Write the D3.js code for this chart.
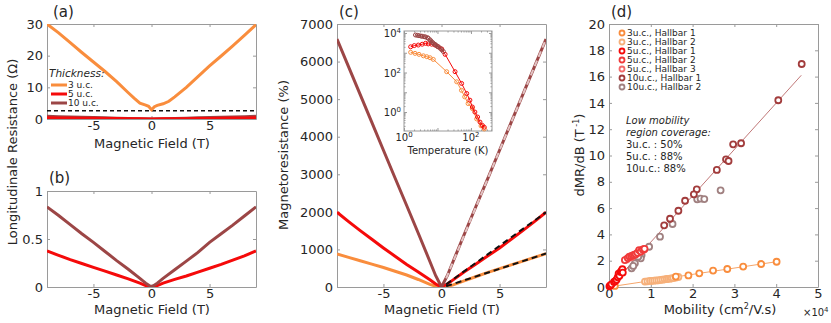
<!DOCTYPE html>
<html>
<head>
<meta charset="utf-8">
<script src="https://cdn.jsdelivr.net/npm/d3@7"></script>
<style>
body { margin: 0; background: #fff; }
svg text { font-family: "DejaVu Sans", Verdana, sans-serif; fill: #262626; }
</style>
</head>
<body>
<svg id="chart" width="831" height="323"></svg>
<script>
// --- Data ---
const fieldA = [-9, -8, -7, -6, -5, -4, -3, -2, -1.5, -1, -0.5, -0.25, 0, 0.25, 0.5, 1, 1.5, 2, 3, 4, 5, 6, 7, 8, 9];
const resA3 = [30, 27.2, 24.1, 21.0, 18.0, 15.0, 11.8, 8.3, 6.6, 5.0, 4.4, 4.0, 2.9, 3.9, 4.3, 4.8, 5.6, 7.0, 10.0, 13.4, 16.8, 19.9, 23.1, 26.4, 29.8];
const dashA = [2.6, 0];

const fieldB = [-9, -8, -7, -6, -5, -4, -3, -2, -1, -0.5, 0, 0.5, 1, 2, 3, 4, 5, 6, 7, 8, 9];
const resB5 = [0.375, 0.33, 0.285, 0.245, 0.205, 0.165, 0.125, 0.085, 0.04, 0.015, 0, 0.015, 0.04, 0.08, 0.115, 0.155, 0.195, 0.235, 0.28, 0.325, 0.375];
const resB10 = [0.835, 0.745, 0.65, 0.555, 0.465, 0.37, 0.275, 0.185, 0.09, 0.04, 0, 0.04, 0.09, 0.18, 0.27, 0.36, 0.465, 0.555, 0.645, 0.74, 0.835];

const fieldC = [-9, -8, -7, -6, -5, -4, -3, -2, -1, -0.5, 0, 0.5, 1, 2, 3, 4, 5, 6, 7, 8, 9];
const mr3 = [880, 790, 700, 610, 520, 420, 320, 200, 70, 20, 0, 15, 55, 170, 280, 390, 490, 590, 690, 790, 890];
const mr5 = [1990, 1740, 1500, 1270, 1040, 820, 600, 400, 190, 80, 0, 80, 190, 410, 620, 830, 1040, 1270, 1500, 1740, 1990];
const mr10 = [6600, 5860, 5120, 4380, 3640, 2900, 2170, 1430, 680, 300, 0, 300, 680, 1430, 2170, 2900, 3640, 4380, 5120, 5860, 6600];
const fitField = [0.4, 9];
const fit3 = [20, 890];
const fit5 = [70, 1990];
const fit10 = [230, 6600];

const insetT3 = [1.58, 2.13, 2.8, 3.8, 4.8, 6, 7.5, 18.8, 37.5, 52, 65, 82, 110, 148, 200, 250];
const insetMR3 = [1050, 930, 830, 700, 630, 560, 460, 110, 34, 12.6, 5.9, 2.7, 1.5, 0.45, 0.2, 0.14];
const insetT5 = [1.58, 2.03, 2.67, 3.5, 4.4, 5.3, 6.7, 8.4, 10.5, 13.4, 16.9, 33.5, 52.6, 74.6, 93, 110, 131, 158, 186, 220, 250];
const insetMR5 = [2000, 2300, 2450, 2700, 3000, 2800, 2700, 2450, 2000, 1550, 830, 110, 28, 8.7, 4, 1.8, 1, 0.56, 0.31, 0.21, 0.17];
const insetT10 = [2.2, 2.5, 2.8, 3.2, 3.5, 4, 4.4, 5, 5.3, 6, 6.4, 7, 7.5, 8.2, 8.8, 9.6, 10.5, 12, 13.5, 15];
const insetMR10 = [7900, 7600, 7300, 7000, 6800, 6500, 6300, 5800, 5400, 4500, 3900, 3400, 3000, 2700, 2500, 2200, 2000, 1700, 1400, 1150];

const mob3H1 = [4.01, 3.64, 3.21, 2.83, 2.49, 2.16, 1.90, 1.60, 0.14];
const dmr3H1 = [1.92, 1.75, 1.55, 1.37, 1.25, 1.04, 0.88, 0.79, 0.08];
const mob3H2 = [0.86, 0.92, 0.98, 1.03, 1.08, 1.13, 1.18, 1.23, 1.28, 1.33, 1.38, 1.42, 1.46, 1.50, 1.54, 1.60, 1.66];
const dmr3H2 = [0.41, 0.43, 0.46, 0.47, 0.48, 0.50, 0.51, 0.54, 0.56, 0.58, 0.61, 0.62, 0.63, 0.66, 0.68, 0.72, 0.76];
const mob5H1 = [0.01, 0.03, 0.06, 0.12, 0.15, 0.18, 0.21, 0.23, 0.25, 0.28, 0.30, 0.32, 0.33];
const dmr5H1 = [0.05, 0.12, 0.2, 0.38, 0.45, 0.55, 0.75, 1.02, 0.85, 1.15, 1.22, 1.35, 1.1];
const mob5H2 = [0.38, 0.45, 0.49, 0.53, 0.57, 0.60, 0.64, 0.68, 0.72, 0.76, 0.81, 0.85];
const dmr5H2 = [2.05, 2.2, 2.31, 2.35, 2.4, 2.45, 2.5, 2.6, 2.81, 2.7, 2.86, 2.9];
const mob5H3 = [0.42, 0.5, 0.55, 0.62, 0.7, 0.78, 0.84];
const dmr5H3 = [2.1, 2.25, 2.3, 2.45, 2.6, 2.75, 2.85];
const mob10H1 = [4.61, 4.05, 3.16, 2.97, 2.80, 2.86, 2.58, 2.10, 2.03, 1.82, 1.66, 1.46, 1.32];
const dmr10H1 = [16.96, 14.2, 10.93, 10.85, 9.71, 9.58, 8.9, 7.43, 7.05, 6.56, 5.80, 5.19, 4.69];
const mob10H2 = [2.67, 2.11, 2.19, 2.28, 1.52, 1.22, 0.96, 0.78, 0.76, 0.70, 0.62, 0.54, 0.58];
const dmr10H2 = [7.35, 6.67, 6.72, 6.69, 4.79, 3.83, 3.06, 2.43, 2.18, 2.3, 1.80, 1.42, 1.6];
const fitMob3 = [0.1, 4.0], fitDmr3 = [0.05, 1.92];
const fitMob5 = [0.0, 0.88], fitDmr5 = [0.0, 2.9];
const fitMob10 = [0.3, 4.6], fitDmr10 = [0.95, 16.1];

const legendA = ["3 u.c.", "5 u.c.", "10 u.c."];
const legendD = ["3u.c., Hallbar 1", "3u.c., Hallbar 2", "5u.c., Hallbar 1", "5u.c., Hallbar 2", "5u.c., Hallbar 3", "10u.c., Hallbar 1", "10u.c., Hallbar 2"];
const coverage = ["Low mobility", "region coverage:", "3u.c. : 50%", "5u.c. : 88%", "10u.c.: 88%"];

// --- Colors ---
const cOrange = "#f98d3d", cRed = "#f50a0a", cBrown = "#9c4646";
const legendDColors = ["#f98d3d", "#f6b07a", "#f50a0a", "#f03a3a", "#f36a6a", "#a23c3c", "#a08080"];
const axisGray = "#9a9a9a";

const svg = d3.select("#chart");

function zip(xs, ys) { return xs.map((v, i) => [v, ys[i]]); }

function panel(x0, x1, y0, y1, xd, yd, xt, yt, yfmt) {
    const x = d3.scaleLinear().domain(xd).range([x0, x1]);
    const y = d3.scaleLinear().domain(yd).range([y1, y0]);
    const id = "clip" + Math.round(x0) + "_" + Math.round(y0);
    svg.append("clipPath").attr("id", id).append("rect")
        .attr("x", x0).attr("y", y0).attr("width", x1 - x0).attr("height", y1 - y0);
    const axes = svg.append("g").attr("class", "axes");
    const g = svg.append("g").attr("clip-path", `url(#${id})`);
    axes.append("g").attr("transform", `translate(0,${y1})`).attr("color", axisGray)
        .call(d3.axisBottom(x).tickValues(xt).tickSize(-3).tickSizeOuter(0).tickPadding(2)
            .tickFormat(d => d < 0 ? "-" + Math.abs(d) : d));
    axes.append("g").attr("transform", `translate(0,${y0})`).attr("color", axisGray)
        .call(d3.axisTop(x).tickValues(xt).tickSize(-3).tickSizeOuter(0).tickFormat(""));
    axes.append("g").attr("transform", `translate(${x0},0)`).attr("color", axisGray)
        .call(d3.axisLeft(y).tickValues(yt).tickSize(-3).tickSizeOuter(0).tickPadding(4).tickFormat(yfmt || (d => d)));
    axes.append("g").attr("transform", `translate(${x1},0)`).attr("color", axisGray)
        .call(d3.axisRight(y).tickValues(yt).tickSize(-3).tickSizeOuter(0).tickFormat(""));
    axes.selectAll("text").style("font-size", "13px");
    return { g, x, y };
}

function drawLine(p, data, color, width, dash) {
    const line = d3.line().x(d => p.x(d[0])).y(d => p.y(d[1]));
    p.g.append("path").datum(data).attr("d", line)
        .attr("fill", "none").attr("stroke", color).attr("stroke-width", width)
        .attr("stroke-dasharray", dash || null);
}

function label(x, y, txt, opts) {
    opts = opts || {};
    const t = svg.append("text").attr("x", x).attr("y", y)
        .attr("text-anchor", opts.anchor || "start")
        .style("font-size", (opts.size || 13) + "px")
        .style("font-style", opts.italic ? "italic" : "normal")
        .text(txt);
    if (opts.rotate) t.attr("transform", `rotate(-90,${x},${y})`);
    return t;
}

// --- Panel (a) ---
const pa = panel(47, 256, 24, 119, [-9, 9], [0, 30], [-5, 0, 5], [0, 10, 20, 30]);
dashA.forEach(v => drawLine(pa, [[-9, v], [9, v]], "#111", 1.5, "4,3"));
drawLine(pa, zip(fieldB, resB10), cBrown, 3);
drawLine(pa, zip(fieldB, resB5), cRed, 3);
drawLine(pa, zip(fieldA, resA3), cOrange, 3);
label(49, 77, "Thickness:", { size: 10.5, italic: true });
[cOrange, cRed, cBrown].forEach((c, i) => {
    svg.append("line").attr("x1", 51).attr("x2", 67).attr("y1", 85 + i * 9).attr("y2", 85 + i * 9)
        .attr("stroke", c).attr("stroke-width", 3);
    label(68, 88.3 + i * 9, legendA[i], { size: 9 });
});
label(152, 148, "Magnetic Field (T)", { anchor: "middle" });
label(53, 17, "(a)", { anchor: "start", size: 15 });

// --- Panel (b) ---
const pb = panel(47, 256, 191, 287, [-9, 9], [0, 1], [-5, 0, 5], [0, 0.5, 1]);
drawLine(pb, zip(fieldB, resB5), cRed, 3);
drawLine(pb, zip(fieldB, resB10), cBrown, 3);
label(152, 314, "Magnetic Field (T)", { anchor: "middle" });
label(49, 183, "(b)", { size: 15 });
label(17, 152, "Longitudinale Resistance (Ω)", { anchor: "middle", rotate: true });

// --- Panel (c) ---
const pc = panel(337, 546, 24, 287, [-9, 9], [0, 7000], [-5, 0, 5], d3.range(0, 7001, 1000));
drawLine(pc, zip(fieldC, mr3), cOrange, 3);
drawLine(pc, zip(fieldC, mr5), cRed, 3);
drawLine(pc, zip(fieldC, mr10), cBrown, 3);
drawLine(pc, zip(fitField, fit3), "#111", 2, "6,4");
drawLine(pc, zip(fitField, fit5), "#111", 2, "6,4");
drawLine(pc, zip(fitField, fit10), "#e2c4c4", 2, "6,4");
label(442, 314, "Magnetic Field (T)", { anchor: "middle" });
label(339, 17, "(c)", { size: 15 });
label(288, 155, "Magnetoresistance (%)", { anchor: "middle", rotate: true });

// inset
const ix = d3.scaleLog().domain([1, 425]).range([404, 492]);
const iy = d3.scaleLog().domain([0.11, 12600]).range([131, 31]);
svg.append("rect").attr("x", 404).attr("y", 31).attr("width", 88).attr("height", 100)
    .attr("fill", "#fff").attr("stroke", axisGray);
const inset = svg.append("g").attr("color", axisGray);
const majX = [1, 10, 100], majY = [0.1, 1, 10, 100, 1000, 10000];
const minX = ix.ticks().filter(t => !majX.includes(t));
const minY = iy.ticks().filter(t => !majY.some(m => Math.abs(m - t) < 1e-9));
[[majX, 3], [minX, 1.5]].forEach(([tv, s]) => {
    inset.append("g").attr("transform", "translate(0,131)").call(d3.axisBottom(ix).tickValues(tv).tickSize(-s).tickSizeOuter(0).tickFormat(""));
    inset.append("g").attr("transform", "translate(0,31)").call(d3.axisTop(ix).tickValues(tv).tickSize(-s).tickSizeOuter(0).tickFormat(""));
});
[[majY.filter(v => v >= 1), 3], [minY, 1.5]].forEach(([tv, s]) => {
    inset.append("g").attr("transform", "translate(404,0)").call(d3.axisLeft(iy).tickValues(tv).tickSize(-s).tickSizeOuter(0).tickFormat(""));
    inset.append("g").attr("transform", "translate(492,0)").call(d3.axisRight(iy).tickValues(tv).tickSize(-s).tickSizeOuter(0).tickFormat(""));
});
inset.selectAll("path.domain").attr("stroke", "none");
function powLabel(x, y, exp, anchor) {
    const t = svg.append("text").attr("x", x).attr("y", y).attr("text-anchor", anchor).style("font-size", "10px");
    t.append("tspan").text("10");
    t.append("tspan").attr("dy", -4).style("font-size", "7px").text(exp);
}
[1, 100].forEach(v => powLabel(ix(v), 141, Math.log10(v), "middle"));
[1, 100, 10000].forEach(v => powLabel(401, iy(v) + 4, Math.log10(v), "end"));
label(448, 154, "Temperature (K)", { anchor: "middle", size: 10 });
const iline = d3.line().x(d => ix(d[0])).y(d => iy(d[1]));
[[insetT3, insetMR3, cOrange], [insetT5, insetMR5, cRed], [insetT10, insetMR10, cBrown]].forEach(([ts, vs, c]) => {
    const data = zip(ts, vs);
    svg.append("path").datum(data).attr("d", iline).attr("fill", "none").attr("stroke", c).attr("stroke-width", 1);
    svg.append("g").selectAll("circle").data(data).join("circle")
        .attr("cx", d => ix(d[0])).attr("cy", d => iy(d[1])).attr("r", 2)
        .attr("fill", "none").attr("stroke", c).attr("stroke-width", 1);
});

// --- Panel (d) ---
const pd = panel(609, 818, 24, 287, [0, 5], [0, 20], [0, 1, 2, 3, 4, 5], d3.range(0, 21, 2));
drawLine(pd, zip(fitMob3, fitDmr3), "#f5a56a", 1);
drawLine(pd, zip(fitMob10, fitDmr10), "#c07878", 1);
drawLine(pd, zip(fitMob5, fitDmr5), "#f04040", 1);
const scatterSets = [
    [mob3H2, dmr3H2, legendDColors[1]],
    [mob3H1, dmr3H1, legendDColors[0]],
    [mob10H2, dmr10H2, legendDColors[6]],
    [mob10H1, dmr10H1, legendDColors[5]],
    [mob5H3, dmr5H3, legendDColors[4]],
    [mob5H2, dmr5H2, legendDColors[3]],
    [mob5H1, dmr5H1, legendDColors[2]]
];
scatterSets.forEach(([xs, ys, c]) => {
    svg.append("g").selectAll("circle").data(zip(xs, ys)).join("circle")
        .attr("cx", d => pd.x(d[0])).attr("cy", d => pd.y(d[1])).attr("r", 3)
        .attr("fill", "#fff").attr("stroke", c).attr("stroke-width", 1.8);
});
legendD.forEach((name, i) => {
    const yy = 33 + i * 9;
    svg.append("circle").attr("cx", 622).attr("cy", yy).attr("r", 2.5)
        .attr("fill", "#fff").attr("stroke", legendDColors[i]).attr("stroke-width", 1.8);
    label(627, yy + 3.3, name, { size: 9 });
});
coverage.forEach((t, i) => {
    label(626, 124 + i * 12, t, { size: 10, italic: i < 2 });
});
label(720, 314, "Mobility (cm", { anchor: "middle" }).call(t => {
    t.append("tspan").attr("dy", -5).style("font-size", "8px").text("2");
    t.append("tspan").attr("dy", 5).text("/V.s)");
});
label(803, 316, "×10", { size: 10 }).append("tspan").attr("dy", -4).style("font-size", "7px").text("4");
label(611, 17, "(d)", { size: 15 });
label(584, 155, "dMR/dB (T", { anchor: "middle", rotate: true }).call(t => {
    t.append("tspan").attr("dy", -5).style("font-size", "8px").text(" -1");
    t.append("tspan").attr("dy", 5).text(")");
});
</script>
</body>
</html>
